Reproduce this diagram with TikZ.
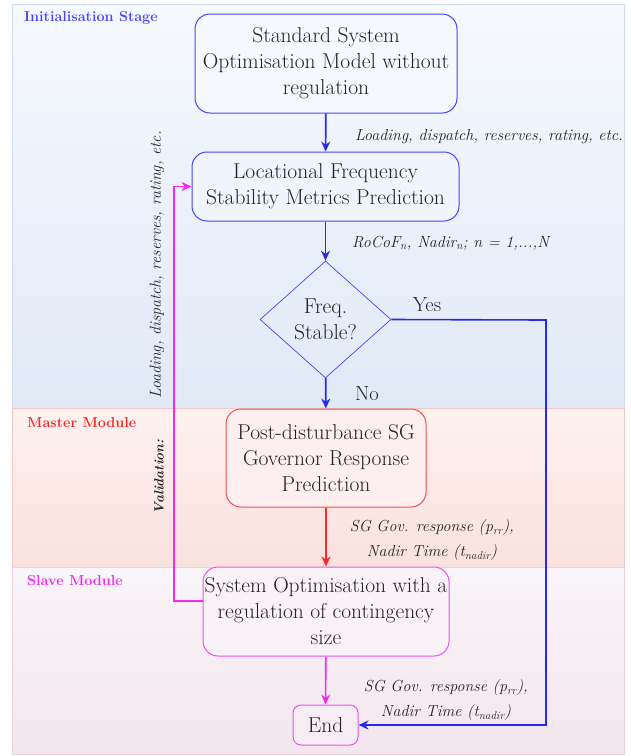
\documentclass[tikz,border=0pt]{standalone}
\usetikzlibrary{shapes.geometric,arrows.meta,calc}
\definecolor{myblue}{RGB}{40,40,240}
\definecolor{boxblue}{RGB}{70,70,250}
\definecolor{myred}{RGB}{250,40,40}
\definecolor{boxred}{RGB}{245,80,80}
\definecolor{mymag}{RGB}{245,40,240}
\definecolor{boxmag}{RGB}{240,80,235}
\definecolor{txt}{RGB}{35,35,35}
\tikzset{
  boxstyle/.style={rounded corners=15pt, line width=1pt, align=center, text=txt,
     font=\fontsize{21.5}{26}\selectfont, inner sep=0pt},
  lab/.style={font=\fontsize{16}{25}\selectfont\itshape, text=txt, align=center, inner sep=0pt},
  title/.style={font=\fontsize{14.4}{17}\selectfont\bfseries, anchor=west, inner sep=0pt},
  arr/.style={line width=1.6pt, -{Stealth[length=10pt,width=9pt]}},
  yn/.style={font=\fontsize{20.5}{24}\selectfont, text=txt, inner sep=0pt}
}
\begin{document}
\begin{tikzpicture}[x=1pt,y=-1pt]
\useasboundingbox (0,0) rectangle (631,756);
% panels
\shade[top color={rgb,255:red,246;green,249;blue,254}, bottom color={rgb,255:red,225;green,233;blue,246}] (12,4) rectangle (624,408);
\draw[draw={rgb,255:red,210;green,220;blue,240}, line width=0.8pt] (12,4) rectangle (624,408);
\shade[top color={rgb,255:red,253;green,241;blue,240}, bottom color={rgb,255:red,249;green,225;blue,222}] (12,408) rectangle (624,567);
\draw[draw={rgb,255:red,240;green,200;blue,200}, line width=0.8pt] (12,408) rectangle (624,567);
\shade[top color={rgb,255:red,249;green,245;blue,249}, bottom color={rgb,255:red,243;green,230;blue,238}] (12,567) rectangle (624,754);
\draw[draw={rgb,255:red,235;green,210;blue,225}, line width=0.8pt] (12,567) rectangle (624,754);
% titles
\node[title, text=boxblue] (t1) at (24,18) {Initialisation Stage};
\node[title, text=myred] (t2) at (27,423) {Master Module};
\node[title, text=mymag] (t3) at (27,581) {Slave Module};
% boxes
\node[boxstyle, draw=boxblue, fill={rgb,255:red,246;green,248;blue,254}, minimum width=262pt, minimum height=99pt] (b1) at (326,63.5) {Standard System\\Optimisation Model without\\regulation};
\node[boxstyle, draw=boxblue, fill={rgb,255:red,240;green,244;blue,252}, minimum width=267pt, minimum height=69pt] (b2) at (325.5,186.5) {Locational Frequency\\Stability Metrics Prediction};
\node[diamond, draw=boxblue, line width=0.7pt, minimum width=131pt, minimum height=117pt, inner sep=0pt, align=center, text=txt, font=\fontsize{21.5}{26}\selectfont] (d) at (325.5,319.5) {Freq.\\Stable?};
\node[boxstyle, draw=boxred, fill={rgb,255:red,253;green,239;blue,239}, minimum width=200pt, minimum height=98pt] (b3) at (326,458) {Post-disturbance SG\\Governor Response\\Prediction};
\node[boxstyle, draw=boxmag, fill={rgb,255:red,249;green,243;blue,248}, minimum width=246pt, minimum height=89pt] (b4) at (326,611.5) {System Optimisation with a\\regulation of contingency\\size};
\node[boxstyle, rounded corners=8pt, draw=boxmag, fill={rgb,255:red,246;green,236;blue,244}, minimum width=65pt, minimum height=40pt] (b5) at (325.5,725) {End};
% arrows
\draw[arr, myblue] (b1) -- (b2);
\draw[arr, myblue] (b2) -- (d);
\draw[arr, myblue] (d) -- (b3);
\draw[arr, myred] (b3) -- (b4);
\draw[arr, mymag] (b4) -- (b5);
\coordinate (yc) at (546,320);
\draw[arr, myblue] (d.east) -- (yc) |- (b5.east);
\coordinate (fb1) at (174,601);
\coordinate (fb2) at (174,186.5);
\draw[arr, mymag] (b4.west |- fb1) -- (fb1) -- (fb2) -- (b2.west);
% labels
\node[yn] (yes) at (427,305) {Yes};
\node[yn] (no) at (367,394) {No};
\node[lab, anchor=west] (l1) at (355,137) {Loading, dispatch, reserves, rating, etc.};
\node[lab, anchor=west] (l2) at (352,243) {RoCoF\textsubscript{\textit{n}}, Nadir\textsubscript{\textit{n}}; \textit{n} = 1,...,N};
\node[lab] (l3) at (432,540) {SG Gov. response (\textit{p}\textsubscript{\textit{rr}}),\\Nadir Time (\textit{t}\textsubscript{\textit{nadir}})};
\node[lab] (l4) at (446,700) {SG Gov. response (\textit{p}\textsubscript{\textit{rr}}),\\Nadir Time (\textit{t}\textsubscript{\textit{nadir}})};
\node[lab, rotate=90] (l5) at (157,265) {Loading, dispatch, reserves, rating, etc.};
\node[lab, font=\fontsize{13.5}{17}\selectfont\bfseries\itshape, rotate=90] (l6) at (159,477) {Validation:};
\end{tikzpicture}
\end{document}
